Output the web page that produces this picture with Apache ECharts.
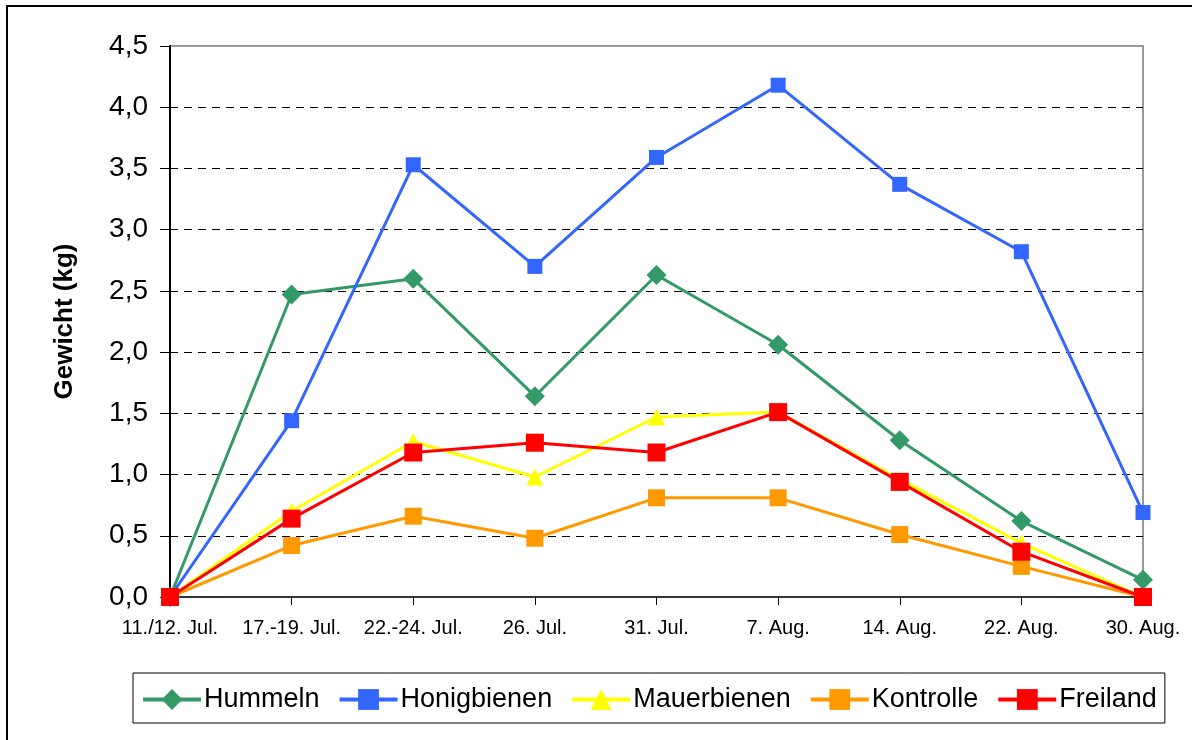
<!DOCTYPE html>
<html>
<head>
<meta charset="utf-8">
<script src="https://cdn.jsdelivr.net/npm/echarts@6/dist/echarts.min.js"></script>
<style>
  html, body { margin: 0; padding: 0; background: #fff; }
  #main { width: 1192px; height: 740px; }
</style>
</head>
<body>
<div id="main"></div>
<script>
const categories = ["11./12. Jul.", "17.-19. Jul.", "22.-24. Jul.", "26. Jul.", "31. Jul.", "7. Aug.", "14. Aug.", "22. Aug.", "30. Aug."];
const hummeln = [0, 2.47, 2.6, 1.64, 2.63, 2.06, 1.28, 0.62, 0.14];
const honigbienen = [0, 1.44, 3.53, 2.7, 3.59, 4.18, 3.37, 2.82, 0.69];
const mauerbienen = [0, 0.7, 1.27, 0.98, 1.47, 1.51, 0.96, 0.44, 0];
const kontrolle = [0, 0.42, 0.66, 0.48, 0.81, 0.81, 0.51, 0.25, 0];
const freiland = [0, 0.64, 1.18, 1.26, 1.18, 1.51, 0.94, 0.37, 0];

const font = "Liberation Sans, Arial, sans-serif";

function line(name, data, color, symbol, size) {
  return {
    name: name,
    type: "line",
    data: data,
    symbol: symbol,
    symbolSize: size,
    showAllSymbol: true,
    lineStyle: { color: color, width: 3 },
    itemStyle: { color: color },
    emphasis: { disabled: true },
    animation: false
  };
}

const chart = echarts.init(document.getElementById("main"));
chart.setOption({
  backgroundColor: "#fff",
  animation: false,
  textStyle: { fontFamily: font },
  graphic: [{
    type: "rect",
    shape: { x: 7, y: 6, width: 1200, height: 800 },
    style: { fill: "none", stroke: "#000", lineWidth: 2 }
  }],
  grid: {
    left: 170, right: 49, top: 46, bottom: 143,
    show: true, borderColor: "#999", borderWidth: 2, backgroundColor: "transparent"
  },
  legend: {
    left: 133, top: 673,
    itemWidth: 58, itemHeight: 26, itemGap: 18,
    padding: [13, 8, 10, 8],
    borderColor: "#000", borderWidth: 1,
    lineStyle: { width: 4 },
    textStyle: { fontSize: 27, color: "#000", fontFamily: font, padding: [0, 0, 0, -2] },
    data: ["Hummeln", "Honigbienen", "Mauerbienen", "Kontrolle", "Freiland"]
  },
  xAxis: {
    type: "category",
    data: categories,
    boundaryGap: false,
    axisLine: { lineStyle: { color: "#333", width: 2 } },
    axisTick: { alignWithLabel: true, length: 8, lineStyle: { color: "#000" } },
    axisLabel: { fontSize: 20, color: "#000", margin: 21, fontFamily: font, interval: 0 }
  },
  yAxis: {
    type: "value",
    min: 0, max: 4.5, interval: 0.5,
    name: "Gewicht (kg)",
    nameLocation: "middle",
    nameGap: 92,
    nameTextStyle: { fontSize: 26, fontWeight: "bold", color: "#000", fontFamily: font },
    axisLine: { show: true, lineStyle: { color: "#000", width: 2 } },
    axisTick: { show: true, length: 10, lineStyle: { color: "#000" } },
    axisLabel: {
      fontSize: 28, color: "#000", margin: 22, fontFamily: font,
      formatter: function (v) { return v.toFixed(1).replace(".", ","); }
    },
    splitLine: {
      show: true, showMinLine: false, showMaxLine: false,
      lineStyle: { color: "#000", type: [8, 6], width: 1 }
    }
  },
  series: [
    line("Hummeln", hummeln, "#339966", "diamond", 20),
    line("Honigbienen", honigbienen, "#3366FF", "rect", 15),
    line("Mauerbienen", mauerbienen, "#FFFF00", "triangle", 17),
    line("Kontrolle", kontrolle, "#FF9900", "rect", 17),
    line("Freiland", freiland, "#FF0000", "rect", 18)
  ]
});
</script>
</body>
</html>
